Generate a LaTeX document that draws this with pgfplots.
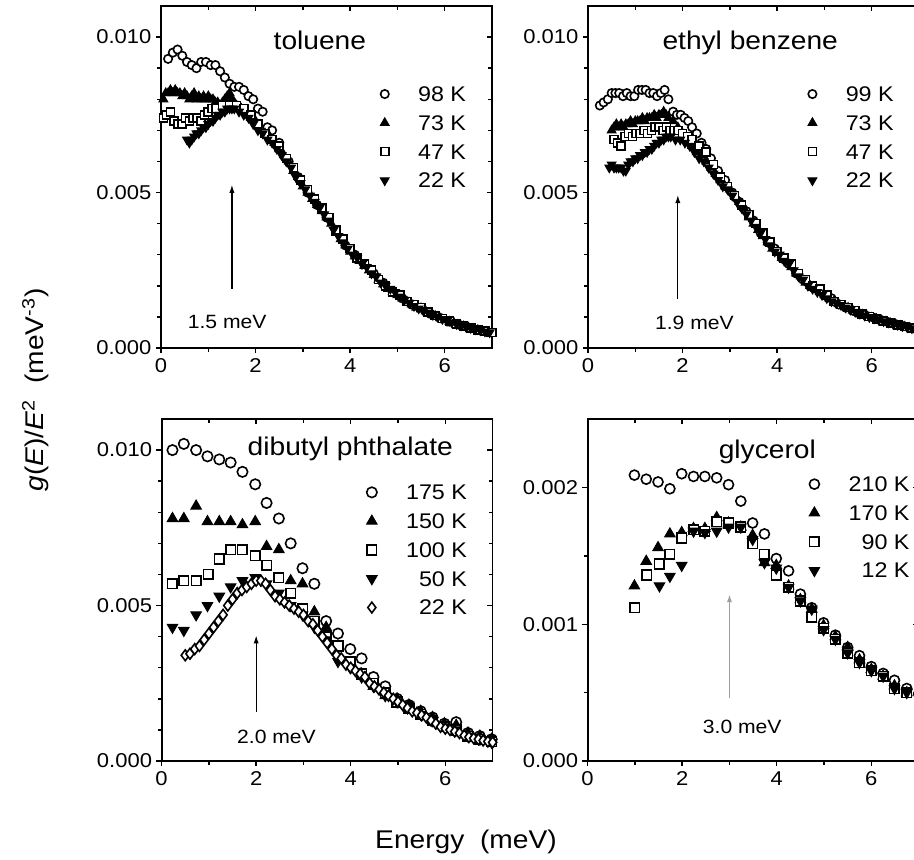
\documentclass[border=0pt]{standalone}
\usepackage{pgfplots}
\pgfplotsset{compat=1.18}
\usepackage{fontspec}
\setmainfont{Liberation Sans}[FakeStretch=1.1]
\usetikzlibrary{arrows.meta}
\tikzset{
 ttl/.style={font=\fontsize{12.8}{13}\selectfont, anchor=base},
 ann/.style={font=\fontsize{9.6}{10}\selectfont, anchor=base},
}
\pgfplotsset{
 panel/.style={scale only axis, width=165.5pt, height=171pt, xmin=0, xmax=7,
   axis line style={line width=0.9pt}, tick style={black, line width=0.7pt},
   major tick length=2.6pt, minor tick length=1.8pt,
   xtick={0,2,4,6}, minor x tick num=1,
   ticklabel style={font=\fontsize{10}{10}\selectfont},
   /pgf/number format/assume math mode=true,
   scaled y ticks=false,
   yticklabel style={/pgf/number format/fixed, /pgf/number format/fixed zerofill, /pgf/number format/precision=3, inner sep=2pt},
   xticklabel style={inner sep=2.5pt},
 },
 inner/.style={panel, tick align=inside, xtick pos=right, ytick pos=right, xticklabels={}, yticklabels={}},
 outer/.style={panel, tick align=outside, xtick pos=left, ytick pos=left,
   legend cell align=right,
   legend style={draw=none, fill=none, font=\fontsize{10.6}{11}\selectfont, row sep=6pt,
     nodes={inner sep=0.5pt, text height=7.4pt, text depth=0pt},
     /tikz/every odd column/.append style={column sep=14pt}}},
 topy/.style={ymin=0, ymax=0.011, ytick={0,0.005,0.01}, minor y tick num=4},
 boty/.style={ymin=0, ymax=0.0025, ytick={0,0.001,0.002}, minor y tick num=1},
 mc/.style={only marks, mark=*, mark size=#1, mark options={line width=0.8pt, draw=black, fill=white, solid}},
 mt/.style={only marks, mark=triangle*, mark size=#1, mark options={line width=0.5pt, black, fill=black, solid}},
 ms/.style={only marks, mark=square*, mark size=#1, mark options={line width=0.8pt, draw=black, fill=white, solid}},
 md/.style={only marks, mark=triangle*, mark size=#1, mark options={line width=0.5pt, black, fill=black, solid, rotate=180}},
 mdi/.style={only marks, mark=diamond*, mark size=#1, mark options={line width=0.8pt, draw=black, fill=white, solid}},
}
\begin{document}
\begin{tikzpicture}
%%%%%%%%%%%%%%%% toluene
\begin{axis}[inner, topy, at={(80.5pt,255.5pt)}, anchor=south west]
\end{axis}
\begin{axis}[outer, topy, at={(80.5pt,255.5pt)}, anchor=south west,
  legend style={at={(0.944,0.78)}, anchor=north east}]
\addplot[mc=2.1pt] coordinates {(0.15,0.0093)(0.25,0.0095)(0.35,0.0096)(0.45,0.0094)(0.55,0.0092)(0.65,0.0091)(0.75,0.0090)(0.85,0.0092)(0.95,0.0092)(1.05,0.0091)(1.15,0.0091)(1.25,0.0089)(1.35,0.0087)(1.45,0.0085)(1.55,0.0084)(1.65,0.0084)(1.75,0.0083)(1.85,0.0081)(1.95,0.0080)(2.05,0.0077)(2.15,0.0076)(2.25,0.0071)(2.35,0.0070)(2.5,0.0066)(2.7,0.0060)(2.9,0.0055)(3.1,0.0050)(3.3,0.0046)(3.5,0.0042)(3.7,0.0038)(3.9,0.0033)(4.1,0.0030)(4.3,0.0027)(4.5,0.0024)(4.7,0.0021)(4.9,0.0018)(5.1,0.0016)(5.3,0.0014)(5.5,0.0013)(5.7,0.0011)(5.9,0.00097)(6.1,0.00085)(6.3,0.00075)(6.5,0.00066)(6.7,0.00058)(6.9,0.00051)};
\addlegendentry{98 K}
\addplot[mt=2.5pt] coordinates {(0.05,0.0080)(0.1,0.0082)(0.15,0.0082)(0.2,0.0083)(0.25,0.0082)(0.3,0.0083)(0.35,0.0082)(0.4,0.0082)(0.45,0.0081)(0.5,0.0082)(0.55,0.0081)(0.6,0.0080)(0.65,0.0081)(0.7,0.0082)(0.75,0.0080)(0.8,0.0081)(0.85,0.0080)(0.9,0.0081)(0.95,0.0080)(1.0,0.0081)(1.05,0.0080)(1.1,0.0080)(1.15,0.0079)(1.2,0.0079)(1.25,0.0078)(1.3,0.0079)(1.35,0.0080)(1.4,0.0081)(1.45,0.0082)(1.5,0.0080)(1.55,0.0079)(1.6,0.0078)(1.7,0.0077)(1.8,0.0076)(1.9,0.0074)(2.0,0.0073)(2.1,0.0071)(2.2,0.0069)(2.3,0.0068)(2.4,0.0066)(2.5,0.0064)(2.6,0.0062)(2.7,0.0060)(2.8,0.0057)(2.9,0.0055)(3.0,0.0052)(3.1,0.0050)(3.2,0.0048)(3.3,0.0046)(3.4,0.0044)(3.5,0.0042)(3.6,0.0040)(3.7,0.0037)(3.8,0.0035)(3.9,0.0033)(4.0,0.0031)(4.1,0.00295)(4.2,0.0028)(4.3,0.00265)(4.4,0.0025)(4.5,0.00235)(4.6,0.0022)(4.7,0.00205)(4.8,0.0019)(4.9,0.0018)(5.0,0.0017)(5.1,0.0016)(5.2,0.0015)(5.3,0.0014)(5.4,0.0013)(5.5,0.00124)(5.6,0.00118)(5.7,0.0011)(5.8,0.00103)(5.9,0.00096)(6.0,0.0009)(6.1,0.00085)(6.2,0.0008)(6.3,0.00075)(6.4,0.0007)(6.5,0.00066)(6.6,0.00062)(6.7,0.00058)(6.8,0.00055)(6.9,0.00051)(7.0,0.00048)};
\addlegendentry{73 K}
\addplot[ms=2.0pt] coordinates {(0.05,0.0074)(0.12,0.0075)(0.2,0.0076)(0.28,0.0073)(0.36,0.0072)(0.44,0.0072)(0.52,0.0074)(0.6,0.0073)(0.68,0.0074)(0.76,0.0074)(0.84,0.0073)(0.92,0.0075)(1.0,0.0076)(1.08,0.0077)(1.16,0.0077)(1.3,0.0078)(1.45,0.0078)(1.6,0.0078)(1.75,0.0077)(1.9,0.0075)(2.05,0.0072)(2.2,0.0069)(2.35,0.0067)(2.5,0.0065)(2.65,0.0061)(2.8,0.0058)(2.95,0.0054)(3.1,0.0051)(3.25,0.0048)(3.4,0.0045)(3.55,0.0042)(3.7,0.0038)(3.85,0.0035)(4.0,0.0032)(4.15,0.0029)(4.3,0.0027)(4.45,0.0025)(4.6,0.0022)(4.75,0.0020)(4.9,0.0018)(5.05,0.0017)(5.2,0.0015)(5.35,0.0014)(5.5,0.0013)(5.65,0.00115)(5.8,0.00105)(5.95,0.00095)(6.1,0.00086)(6.25,0.00078)(6.4,0.0007)(6.55,0.00064)(6.7,0.00058)(6.85,0.00054)(7.0,0.0005)};
\addlegendentry{47 K}
\addplot[md=2.5pt] coordinates {(0.55,0.0067)(0.6,0.0066)(0.65,0.0067)(0.7,0.0068)(0.75,0.0069)(0.8,0.0069)(0.85,0.0070)(0.9,0.0071)(0.95,0.0071)(1.0,0.0072)(1.05,0.0073)(1.1,0.0073)(1.15,0.0074)(1.2,0.0075)(1.25,0.0075)(1.3,0.0076)(1.35,0.0076)(1.4,0.0077)(1.45,0.0077)(1.5,0.0077)(1.55,0.0077)(1.65,0.0076)(1.75,0.0075)(1.85,0.0074)(1.95,0.0072)(2.05,0.0070)(2.15,0.0069)(2.25,0.0067)(2.35,0.0066)(2.45,0.0064)(2.55,0.0062)(2.65,0.0060)(2.75,0.0058)(2.85,0.0055)(2.95,0.0053)(3.05,0.0051)(3.15,0.0049)(3.25,0.0047)(3.35,0.0045)(3.45,0.0043)(3.55,0.0041)(3.65,0.0038)(3.75,0.0036)(3.85,0.0034)(3.95,0.0032)(4.05,0.0030)(4.15,0.0029)(4.25,0.0027)(4.35,0.0026)(4.45,0.0024)(4.55,0.0023)(4.65,0.0021)(4.75,0.0020)(4.85,0.0019)(4.95,0.0018)(5.05,0.00165)(5.15,0.00155)(5.25,0.00145)(5.35,0.00135)(5.45,0.00127)(5.55,0.0012)(5.65,0.00114)(5.75,0.00106)(5.85,0.001)(5.95,0.00093)(6.05,0.00087)(6.15,0.00082)(6.25,0.00077)(6.35,0.00073)(6.45,0.00068)(6.55,0.00064)(6.65,0.0006)(6.75,0.00057)(6.85,0.00053)(6.95,0.0005)};
\addlegendentry{22 K}
\node[ttl] at (axis cs:3.36,0.0096) {toluene};
\draw[line width=0.6pt, -{Latex[length=4pt,width=2.6pt]}] (axis cs:1.5,0.0019) -- (axis cs:1.5,0.00525);
\node[ann] at (axis cs:1.40,0.00064) {1.5 meV};
\end{axis}
%%%%%%%%%%%%%%%% ethyl benzene
\begin{axis}[inner, topy, at={(294pt,255.5pt)}, anchor=south west]
\end{axis}
\begin{axis}[outer, topy, at={(294pt,255.5pt)}, anchor=south west,
  legend style={at={(0.946,0.78)}, anchor=north east}]
\addplot[mc=2.1pt] coordinates {(0.25,0.0078)(0.33,0.0079)(0.42,0.0080)(0.5,0.0082)(0.58,0.0082)(0.66,0.0082)(0.74,0.0081)(0.82,0.0082)(0.9,0.0081)(0.98,0.0081)(1.06,0.0083)(1.14,0.0083)(1.22,0.0083)(1.3,0.0082)(1.38,0.0082)(1.46,0.0081)(1.54,0.0082)(1.62,0.0083)(1.7,0.0080)(1.8,0.0076)(1.88,0.0075)(1.96,0.0075)(2.04,0.0074)(2.12,0.0073)(2.2,0.0071)(2.3,0.0069)(2.4,0.0066)(2.5,0.0064)(2.6,0.0061)(2.75,0.0057)(2.9,0.0054)(3.05,0.0050)(3.2,0.0047)(3.35,0.0044)(3.5,0.0041)(3.65,0.0037)(3.8,0.0034)(3.95,0.0032)(4.1,0.0029)(4.25,0.0027)(4.4,0.0024)(4.55,0.0022)(4.7,0.0020)(4.85,0.0019)(5.0,0.0017)(5.15,0.0016)(5.3,0.0014)(5.45,0.0013)(5.6,0.0012)(5.75,0.0011)(5.9,0.00103)(6.05,0.00097)(6.2,0.0009)(6.35,0.00083)(6.5,0.00077)(6.65,0.00071)(6.8,0.00066)(6.95,0.0006)};
\addlegendentry{99 K}
\addplot[mt=2.5pt] coordinates {(0.5,0.0070)(0.55,0.0071)(0.6,0.0072)(0.65,0.0071)(0.7,0.0072)(0.75,0.0071)(0.8,0.0072)(0.85,0.0072)(0.9,0.0073)(0.95,0.0072)(1.0,0.0073)(1.05,0.0073)(1.1,0.0073)(1.15,0.0074)(1.2,0.0073)(1.25,0.0074)(1.3,0.0074)(1.35,0.0074)(1.4,0.0075)(1.45,0.0074)(1.5,0.0075)(1.55,0.0075)(1.6,0.0076)(1.65,0.0075)(1.7,0.0074)(1.8,0.0073)(1.9,0.0071)(2.0,0.0069)(2.1,0.0067)(2.2,0.0065)(2.3,0.0063)(2.4,0.0062)(2.5,0.0060)(2.6,0.0058)(2.7,0.0056)(2.8,0.0054)(2.9,0.0052)(3.0,0.0051)(3.1,0.0049)(3.2,0.0047)(3.3,0.0045)(3.4,0.0042)(3.5,0.0040)(3.6,0.0038)(3.7,0.0036)(3.8,0.0034)(3.9,0.0032)(4.0,0.0031)(4.1,0.0029)(4.2,0.0028)(4.3,0.0026)(4.4,0.0024)(4.5,0.0023)(4.6,0.0021)(4.7,0.0020)(4.8,0.0019)(4.9,0.0018)(5.0,0.0017)(5.1,0.0016)(5.2,0.0015)(5.3,0.00142)(5.4,0.00135)(5.5,0.0013)(5.6,0.0012)(5.7,0.00114)(5.8,0.00108)(5.9,0.00103)(6.0,0.00098)(6.1,0.00094)(6.2,0.0009)(6.3,0.00085)(6.4,0.0008)(6.5,0.00077)(6.6,0.00072)(6.7,0.00069)(6.8,0.00065)(6.9,0.00062)(7.0,0.0006)};
\addlegendentry{73 K}
\addplot[ms=2.0pt] coordinates {(0.55,0.0067)(0.62,0.0066)(0.7,0.0065)(0.78,0.0068)(0.86,0.0069)(0.94,0.0068)(1.02,0.0069)(1.1,0.0069)(1.18,0.0070)(1.26,0.0069)(1.34,0.0070)(1.42,0.0071)(1.5,0.0071)(1.58,0.0070)(1.66,0.0071)(1.74,0.0070)(1.82,0.0070)(1.9,0.0070)(2.0,0.0069)(2.1,0.0068)(2.2,0.0067)(2.35,0.0065)(2.5,0.0063)(2.65,0.0059)(2.8,0.0055)(2.95,0.0052)(3.1,0.0049)(3.25,0.0046)(3.4,0.0043)(3.55,0.0040)(3.7,0.0037)(3.85,0.0034)(4.0,0.0031)(4.15,0.0029)(4.3,0.0027)(4.45,0.0024)(4.6,0.0022)(4.75,0.0020)(4.9,0.0019)(5.05,0.0017)(5.2,0.0015)(5.35,0.0014)(5.5,0.0013)(5.65,0.0012)(5.8,0.0011)(5.95,0.00101)(6.1,0.00094)(6.25,0.00087)(6.4,0.0008)(6.55,0.00074)(6.7,0.00069)(6.85,0.00064)(7.0,0.0006)};
\addlegendentry{47 K}
\addplot[md=2.5pt] coordinates {(0.45,0.0058)(0.5,0.0059)(0.55,0.0058)(0.6,0.0058)(0.65,0.0058)(0.7,0.0058)(0.75,0.0057)(0.8,0.0057)(0.85,0.0059)(0.9,0.0060)(0.95,0.0060)(1.0,0.0061)(1.05,0.0061)(1.1,0.0062)(1.15,0.0062)(1.2,0.0063)(1.25,0.0063)(1.3,0.0064)(1.35,0.0064)(1.4,0.0065)(1.45,0.0066)(1.5,0.0066)(1.55,0.0067)(1.6,0.0067)(1.65,0.0068)(1.7,0.0068)(1.75,0.0068)(1.85,0.0067)(1.95,0.0067)(2.05,0.0066)(2.15,0.0065)(2.25,0.0063)(2.35,0.0061)(2.45,0.0060)(2.55,0.0058)(2.65,0.0056)(2.75,0.0054)(2.85,0.0052)(2.95,0.0051)(3.05,0.0049)(3.15,0.0047)(3.25,0.0045)(3.35,0.0043)(3.45,0.0041)(3.55,0.0039)(3.65,0.0037)(3.75,0.0035)(3.85,0.0033)(3.95,0.0031)(4.05,0.0030)(4.15,0.0028)(4.25,0.0027)(4.35,0.0025)(4.45,0.0023)(4.55,0.0022)(4.65,0.0020)(4.75,0.0019)(4.85,0.0018)(4.95,0.0017)(5.05,0.0016)(5.15,0.0015)(5.25,0.00145)(5.35,0.00138)(5.45,0.0013)(5.55,0.00123)(5.65,0.00116)(5.75,0.0011)(5.85,0.00104)(5.95,0.00099)(6.05,0.00095)(6.15,0.0009)(6.25,0.00086)(6.35,0.00082)(6.45,0.00078)(6.55,0.00074)(6.65,0.0007)(6.75,0.00066)(6.85,0.00063)(6.95,0.0006)};
\addlegendentry{22 K}
\node[ttl] at (axis cs:3.43,0.0096) {ethyl benzene};
\draw[line width=0.6pt, -{Latex[length=4pt,width=2.6pt]}] (axis cs:1.9,0.00157) -- (axis cs:1.9,0.00492);
\node[ann] at (axis cs:2.25,0.00061) {1.9 meV};
\end{axis}
%%%%%%%%%%%%%%%% dibutyl phthalate
\begin{axis}[inner, topy, at={(80.8pt,49pt)}, anchor=south west]
\end{axis}
\begin{axis}[outer, topy, at={(80.8pt,49pt)}, anchor=south west,
  legend style={at={(0.945,0.823)}, anchor=north east}]
\addplot[mc=2.6pt] coordinates {(0.23,0.0100)(0.47,0.0102)(0.73,0.0100)(0.97,0.0098)(1.22,0.0097)(1.46,0.0096)(1.71,0.0093)(1.98,0.0089)(2.22,0.0083)(2.48,0.0078)(2.73,0.0070)(2.98,0.0062)(3.23,0.0057)(3.48,0.0045)(3.73,0.0041)(3.99,0.0036)(4.23,0.0033)(4.48,0.0027)(4.73,0.0024)(4.98,0.0020)(5.23,0.0018)(5.48,0.0016)(5.73,0.0014)(5.98,0.0012)(6.23,0.00125)(6.48,0.0009)(6.73,0.0008)(6.98,0.0007)};
\addlegendentry{175 K}
\addplot[mt=3.0pt] coordinates {(0.23,0.0078)(0.47,0.0078)(0.73,0.0082)(0.97,0.0077)(1.22,0.0077)(1.46,0.0077)(1.71,0.0076)(1.98,0.0077)(2.22,0.0069)(2.48,0.0068)(2.73,0.0058)(2.98,0.0057)(3.23,0.0048)(3.48,0.0043)(3.73,0.0037)(3.99,0.0031)(4.23,0.0028)(4.48,0.0024)(4.73,0.0021)(4.98,0.0020)(5.23,0.0018)(5.48,0.0016)(5.73,0.0014)(5.98,0.0012)(6.23,0.00115)(6.48,0.0009)(6.73,0.0008)(6.98,0.0007)};
\addlegendentry{150 K}
\addplot[ms=2.4pt] coordinates {(0.23,0.0057)(0.47,0.0058)(0.73,0.0058)(0.99,0.0060)(1.22,0.0065)(1.46,0.0068)(1.71,0.0068)(1.98,0.0066)(2.22,0.0063)(2.48,0.0059)(2.73,0.0054)(2.98,0.0049)(3.23,0.0045)(3.48,0.0040)(3.73,0.0037)(3.99,0.0032)(4.23,0.0028)(4.48,0.0025)(4.73,0.0022)(4.98,0.0019)(5.23,0.0017)(5.48,0.0015)(5.73,0.0013)(5.98,0.0011)(6.23,0.0010)(6.48,0.0008)(6.73,0.0007)(6.98,0.00062)};
\addlegendentry{100 K}
\addplot[md=3.0pt] coordinates {(0.23,0.0043)(0.47,0.0042)(0.73,0.0047)(0.97,0.0050)(1.22,0.0053)(1.46,0.0056)(1.71,0.0058)(1.98,0.0059)(2.22,0.0057)(2.48,0.0054)(2.73,0.0050)(2.98,0.0047)(3.23,0.0043)(3.48,0.0039)(3.73,0.0032)(3.99,0.0030)(4.23,0.0027)(4.48,0.0024)(4.73,0.0021)(4.98,0.0019)(5.23,0.0018)(5.48,0.0015)(5.73,0.0013)(5.98,0.0011)(6.23,0.0010)(6.48,0.0008)(6.73,0.0007)(6.98,0.0006)};
\addlegendentry{50 K}
\addplot[mdi=2.7pt] coordinates {(0.5,0.0034)(0.6,0.00345)(0.7,0.0036)(0.8,0.0037)(0.9,0.0039)(1.0,0.0041)(1.1,0.0043)(1.2,0.0045)(1.3,0.0047)(1.4,0.0050)(1.5,0.0052)(1.6,0.0054)(1.7,0.0055)(1.8,0.0056)(1.9,0.0057)(2.0,0.0058)(2.1,0.0058)(2.2,0.0057)(2.3,0.0055)(2.4,0.0053)(2.5,0.0052)(2.6,0.0051)(2.7,0.0050)(2.8,0.0049)(2.9,0.0048)(3.0,0.0047)(3.1,0.0045)(3.2,0.0044)(3.3,0.0042)(3.4,0.0040)(3.5,0.0038)(3.6,0.0036)(3.7,0.0034)(3.8,0.0033)(3.9,0.0031)(4.0,0.0030)(4.1,0.0029)(4.2,0.0028)(4.3,0.0027)(4.4,0.0025)(4.5,0.0024)(4.6,0.0023)(4.7,0.0022)(4.8,0.0021)(4.9,0.0020)(5.0,0.0019)(5.1,0.0018)(5.2,0.0017)(5.3,0.0016)(5.4,0.00155)(5.5,0.00147)(5.6,0.0014)(5.7,0.0013)(5.8,0.0012)(5.9,0.0011)(6.0,0.00104)(6.1,0.001)(6.2,0.00095)(6.3,0.0009)(6.4,0.00082)(6.5,0.00077)(6.6,0.00073)(6.7,0.0007)(6.8,0.00066)(6.9,0.00063)(7.0,0.0006)};
\addlegendentry{22 K}
\node[ttl] at (axis cs:3.99,0.00982) {dibutyl phthalate};
\draw[line width=0.6pt, -{Latex[length=4pt,width=2.6pt]}] (axis cs:2.0,0.00157) -- (axis cs:2.0,0.00404);
\node[ann] at (axis cs:2.43,0.00056) {2.0 meV};
\end{axis}
%%%%%%%%%%%%%%%% glycerol
\begin{axis}[inner, boty, at={(293.8pt,49pt)}, anchor=south west]
\end{axis}
\begin{axis}[outer, boty, at={(293.8pt,49pt)}, anchor=south west,
  legend style={at={(0.995,0.847)}, anchor=north east}]
\addplot[mc=2.5pt] coordinates {(0.99,0.00209)(1.24,0.00206)(1.49,0.00204)(1.74,0.00199)(1.99,0.00210)(2.24,0.00208)(2.48,0.00208)(2.73,0.00207)(2.98,0.00202)(3.24,0.0019)(3.49,0.00174)(3.74,0.00166)(3.99,0.00148)(4.25,0.00139)(4.5,0.00122)(4.74,0.00112)(4.99,0.00101)(5.24,0.00092)(5.5,0.00083)(5.75,0.00077)(6.0,0.00069)(6.25,0.00064)(6.49,0.00059)(6.75,0.00053)(7.0,0.00049)};
\addlegendentry{210 K}
\addplot[mt=3.0pt] coordinates {(0.99,0.00128)(1.24,0.00146)(1.49,0.00156)(1.74,0.00166)(1.99,0.00167)(2.24,0.0017)(2.48,0.0017)(2.73,0.00178)(2.98,0.00174)(3.24,0.00171)(3.49,0.00165)(3.74,0.00145)(3.99,0.00143)(4.25,0.00128)(4.5,0.00118)(4.74,0.00111)(4.99,0.00099)(5.24,0.00091)(5.5,0.00083)(5.75,0.00074)(6.0,0.00067)(6.25,0.00062)(6.49,0.00055)(6.75,0.0005)};
\addlegendentry{170 K}
\addplot[ms=2.4pt] coordinates {(1.0,0.00112)(1.25,0.00136)(1.52,0.00144)(1.74,0.00151)(1.99,0.00163)(2.24,0.00169)(2.48,0.00168)(2.73,0.00175)(2.98,0.00174)(3.24,0.00171)(3.49,0.00159)(3.74,0.00151)(3.99,0.00136)(4.25,0.00127)(4.5,0.00117)(4.74,0.00105)(4.99,0.00097)(5.24,0.00089)(5.5,0.00079)(5.75,0.00072)(6.0,0.00066)(6.25,0.00062)(6.49,0.00053)(6.75,0.0005)};
\addlegendentry{90 K}
\addplot[md=3.0pt] coordinates {(1.52,0.00128)(1.74,0.00135)(1.99,0.00143)(2.24,0.00168)(2.48,0.00167)(2.73,0.00168)(2.98,0.00171)(3.24,0.00171)(3.49,0.00162)(3.74,0.00145)(3.99,0.00141)(4.25,0.00127)(4.5,0.00117)(4.74,0.00111)(4.99,0.00096)(5.24,0.00089)(5.5,0.00079)(5.75,0.00072)(6.0,0.00066)(6.25,0.00062)(6.49,0.00053)(6.75,0.0005)};
\addlegendentry{12 K}
\node[ttl] at (axis cs:3.8,0.00221) {glycerol};
\draw[line width=0.8pt, gray!75, -{Latex[length=4pt,width=2.6pt]}] (axis cs:3.0,0.00046) -- (axis cs:3.0,0.00122);
\node[ann] at (axis cs:3.27,0.000203) {3.0 meV};
\end{axis}
%%%%%%%%%%%%%%%% shared labels
\node[font=\fontsize{12.8}{13}\selectfont, anchor=base] at (233pt,5.35pt) {Energy\ \ (meV)};
\node[font=\fontsize{12.8}{13}\selectfont, anchor=base, rotate=90] at (21.7pt,234.5pt) {\textit{g}(\textit{E})/\textit{E}\textsuperscript{2}\ \ (meV\textsuperscript{-3})};
\pgfresetboundingbox
\path[use as bounding box] (0pt,0pt) rectangle (457pt,429.5pt);
\end{tikzpicture}
\end{document}
